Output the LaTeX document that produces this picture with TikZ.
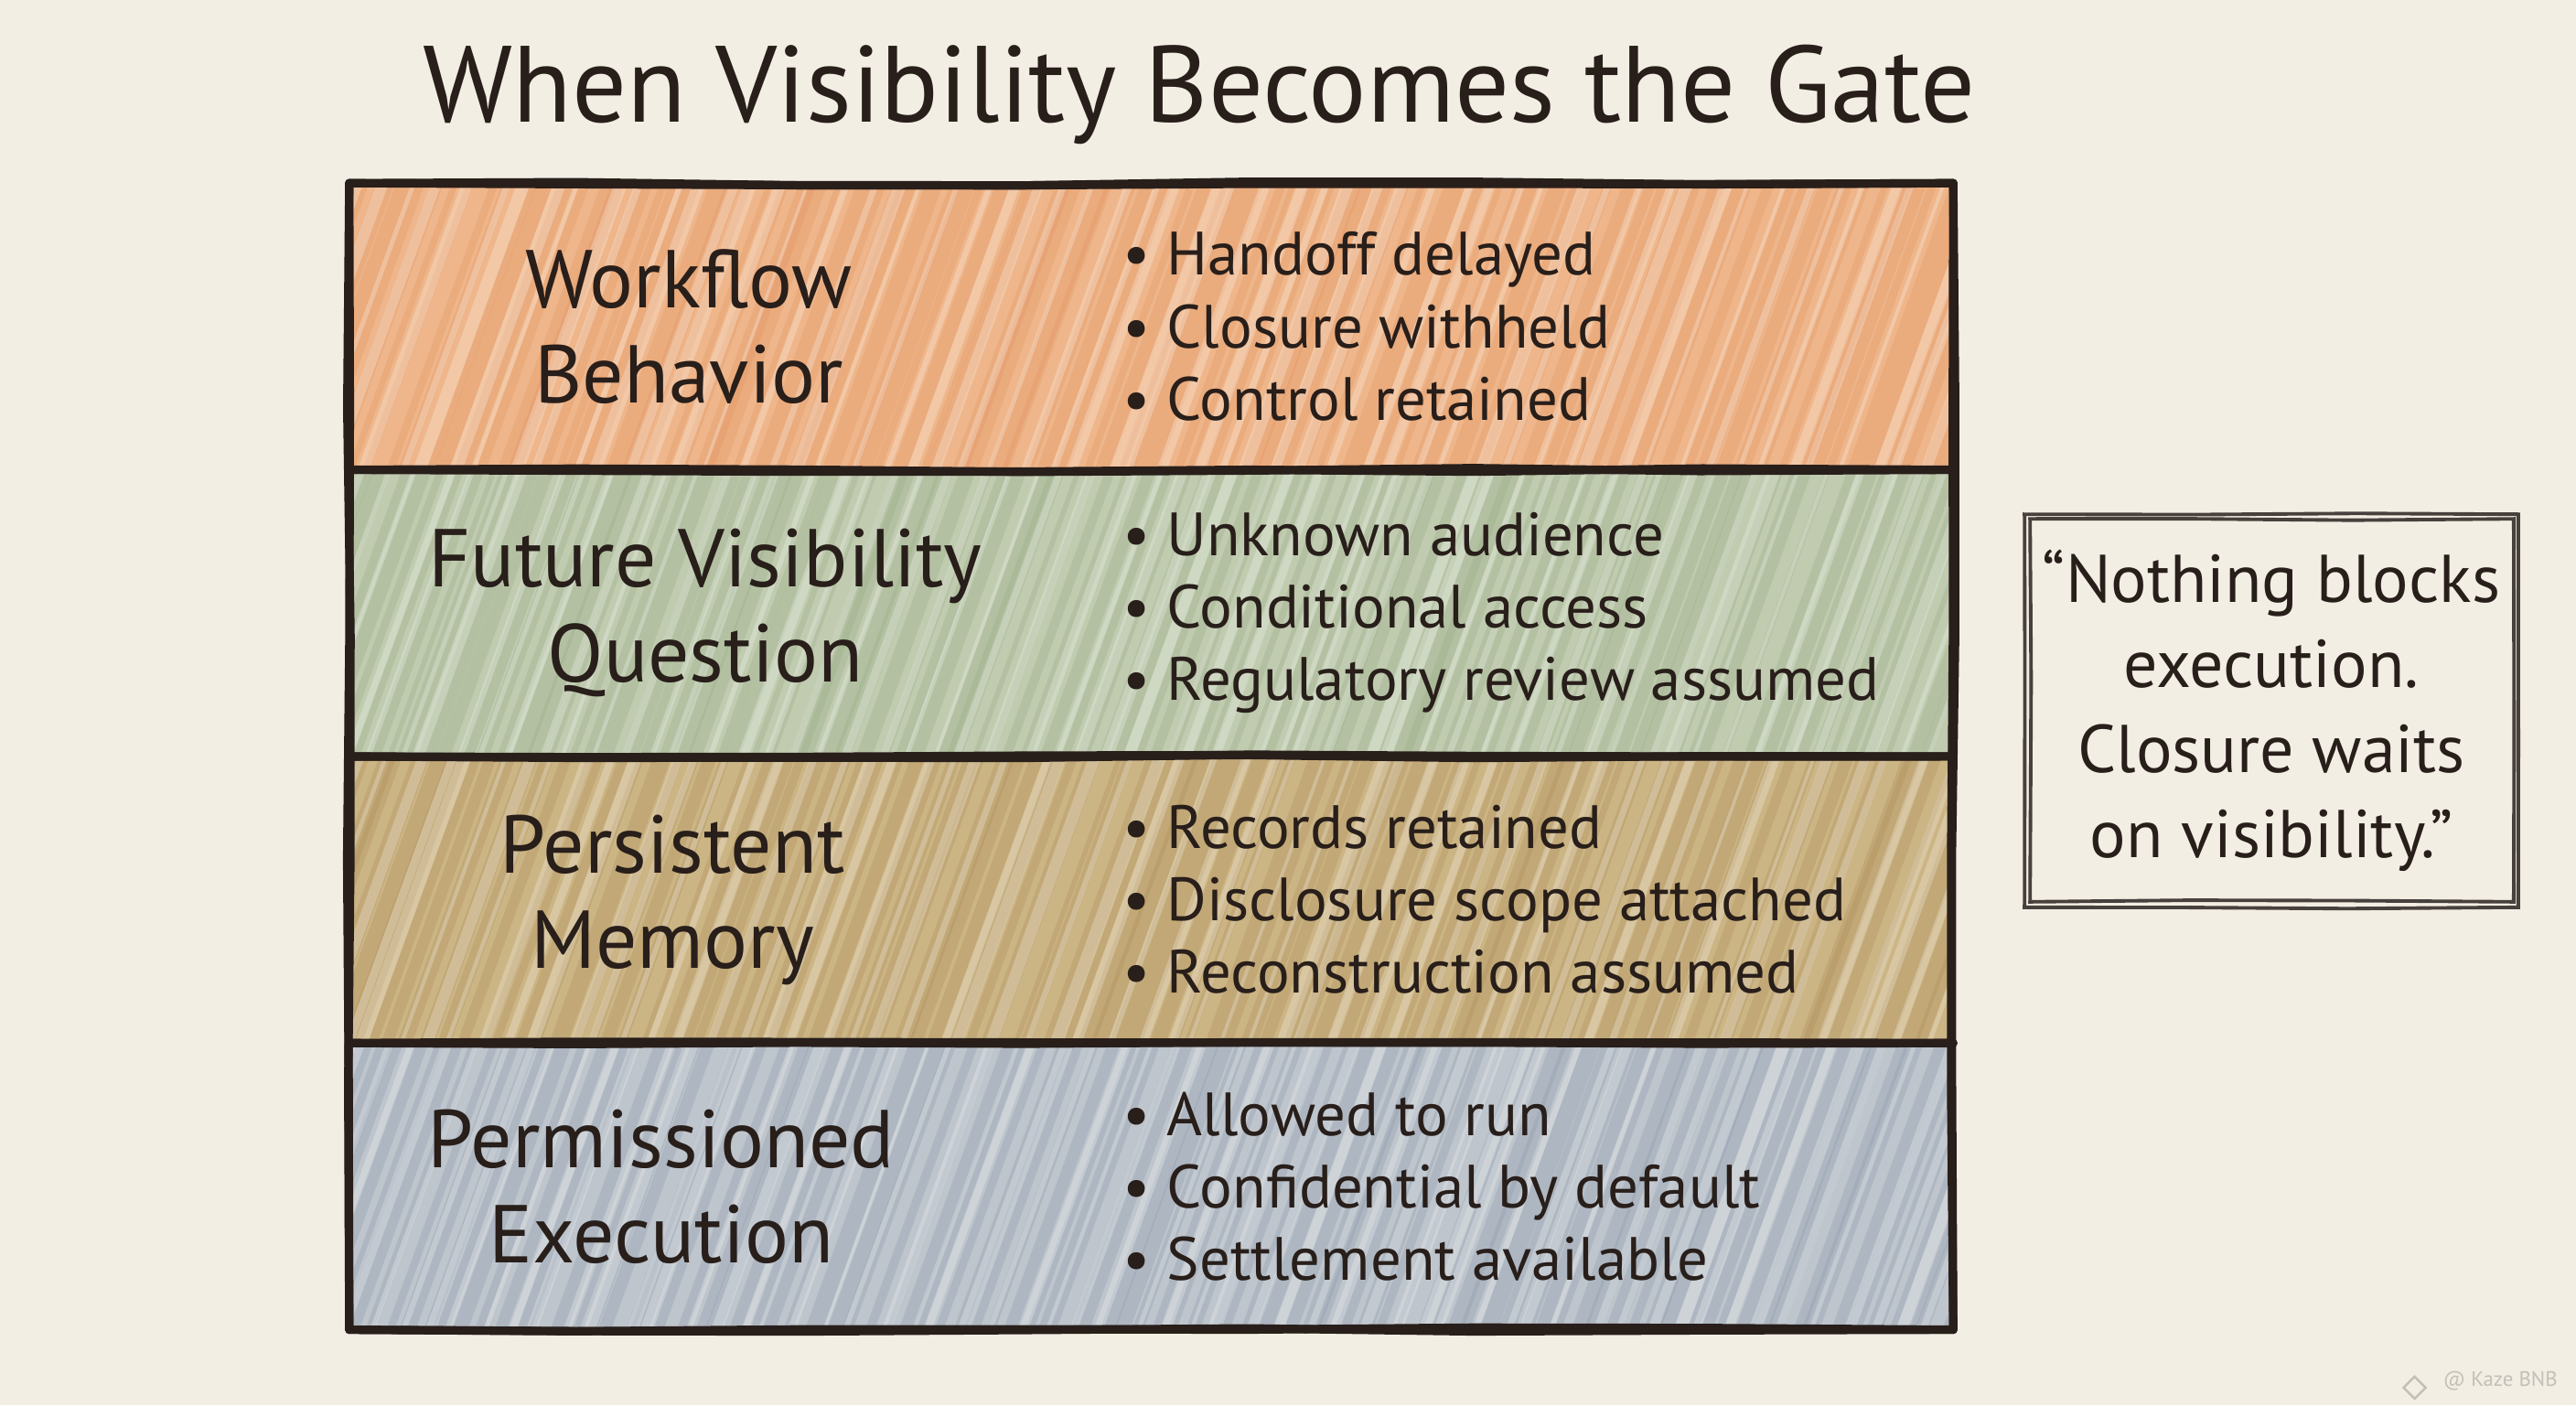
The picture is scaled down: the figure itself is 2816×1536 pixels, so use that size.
\documentclass[tikz,border=0pt]{standalone}
\usepackage{fontspec}
\setmainfont{PT Sans}
\usetikzlibrary{positioning, decorations.pathmorphing}
\definecolor{paper}{RGB}{242,238,228}
\definecolor{ink}{RGB}{40,30,26}
\definecolor{rowA}{RGB}{238,182,138}
\definecolor{rowAh}{RGB}{226,146,96}
\definecolor{rowB}{RGB}{192,203,176}
\definecolor{rowBh}{RGB}{150,170,130}
\definecolor{rowC}{RGB}{204,181,132}
\definecolor{rowCh}{RGB}{170,140,86}
\definecolor{rowD}{RGB}{190,197,204}
\definecolor{rowDh}{RGB}{140,152,170}
\definecolor{faint}{RGB}{196,192,184}
\begin{document}
\begin{tikzpicture}[
    x=0.01cm, y=-0.01cm,
    rowbox/.style={minimum width=17.51cm, minimum height=3.1175cm, inner sep=0pt},
    inkline/.style={draw=ink, line width=2.6pt, line cap=round,
      decorate, decoration={random steps, segment length=70pt, amplitude=0.7pt}},
    thinline/.style={draw=ink!85, line width=1.1pt, line cap=round,
      decorate, decoration={random steps, segment length=50pt, amplitude=0.5pt}},
    rowlabel/.style={font=\fontsize{25.5}{29.6}\selectfont, align=center, text=ink},
    items/.style={font=\fontsize{19}{22.5}\selectfont, align=left, anchor=west, text=ink}
]
\pgfmathsetseed{7}
\fill[paper] (0,0) rectangle (2816,1536);
\useasboundingbox (0,0) rectangle (2816,1536);

% title
\node[font=\fontsize{33.7}{38}\selectfont, text=ink] (title) at (1311,103) {When Visibility Becomes the Gate};

% four stacked rows
\node[rowbox] (wf) at (1258.5,356.9) {};
\node[rowbox, below=0pt of wf] (fv) {};
\node[rowbox, below=0pt of fv] (pm) {};
\node[rowbox, below=0pt of pm] (pe) {};

% crayon fill of each row
\foreach \r/\col in {wf/rowA, fv/rowB, pm/rowC, pe/rowD}{
  \begin{scope}
    \clip (\r.north west) rectangle (\r.south east);
    \fill[\col] (\r.north west) rectangle (\r.south east);
    \foreach \i in {0,...,95}{
      \pgfmathsetmacro\xo{240+\i*20+rnd*14}
      \pgfmathsetmacro\lw{1.5+rnd*4}
      \draw[\col h, line width=\lw pt, opacity=0.3, line cap=round]
        ([xshift=\xo*0.01cm-3.83cm]\r.south west) -- ++(120,-330);
    }
    \foreach \i in {0,...,60}{
      \pgfmathsetmacro\xo{240+\i*31+rnd*20}
      \pgfmathsetmacro\lw{1+rnd*3}
      \draw[white, line width=\lw pt, opacity=0.25, line cap=round]
        ([xshift=\xo*0.01cm-3.83cm]\r.south west) -- ++(120,-330);
    }
  \end{scope}
}

% row borders, drawn twice for a sketched look
\foreach \k in {1,2}{
  \draw[inkline] (wf.north west) -- (wf.north east);
  \draw[inkline] (wf.south west) -- (wf.south east);
  \draw[inkline] (fv.south west) -- (fv.south east);
  \draw[inkline] (pm.south west) -- (pm.south east);
  \draw[inkline] (pe.south west) -- (pe.south east);
  \draw[inkline] (wf.north west) -- (pe.south west);
  \draw[inkline] (wf.north east) -- (pe.south east);
}

% row texts
\node[rowlabel] (wfl) at ([xshift=3.71cm]wf.west) {Workflow\\Behavior};
\node[rowlabel] (fvl) at ([xshift=3.89cm]fv.west) {Future Visibility\\Question};
\node[rowlabel] (pml) at ([xshift=3.53cm]pm.west) {Persistent\\Memory};
\node[rowlabel] (pel) at ([xshift=3.41cm]pe.west) {Permissioned\\Execution};

\node[items] (wfi) at ([xshift=8.33cm]wf.west)
  {\textbullet\ Handoff delayed\\\textbullet\ Closure withheld\\\textbullet\ Control retained};
\node[items] (fvi) at ([xshift=8.33cm]fv.west)
  {\textbullet\ Unknown audience\\\textbullet\ Conditional access\\\textbullet\ Regulatory review assumed};
\node[items] (pmi) at ([xshift=8.33cm]pm.west)
  {\textbullet\ Records retained\\\textbullet\ Disclosure scope attached\\\textbullet\ Reconstruction assumed};
\node[items] (pei) at ([xshift=8.33cm]pe.west)
  {\textbullet\ Allowed to run\\\textbullet\ Confidential by default\\\textbullet\ Settlement available};

% side quote
\node[minimum width=5.38cm, minimum height=4.28cm, inner sep=0pt] (quote) at (2483,777) {};
\draw[thinline] (quote.north west) rectangle (quote.south east);
\draw[thinline] ([shift={(6,5)}]quote.north west) rectangle ([shift={(-5,-6)}]quote.south east);
\node[font=\fontsize{21}{26.5}\selectfont, align=center, text=ink] (quotetext) at (quote.center)
  {“Nothing blocks\\execution.\\Closure waits\\on visibility.”};

% watermark
\node[font=\fontsize{6.5}{7}\selectfont, text=faint, anchor=east] (mark) at (2808,1510) {@ Kaze BNB};
\node[draw=faint, line width=0.7pt, rotate=45, minimum size=0.17cm, inner sep=0pt, left=0.12cm of mark] (logo) {};
\end{tikzpicture}
\end{document}
